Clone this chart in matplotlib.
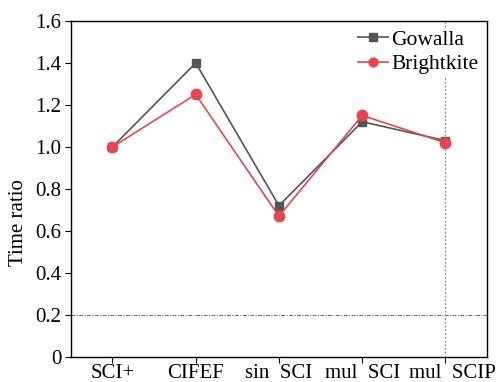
import matplotlib
matplotlib.use("Agg")
import matplotlib.pyplot as plt
import matplotlib.transforms as mtransforms

methods = ["SCI+", "CIFEF", "sin\u2002SCI", "mul\u2002SCI", "mul\u2002SCIP"]
gowalla = [1.00, 1.40, 0.72, 1.12, 1.03]
brightkite = [1.00, 1.25, 0.67, 1.15, 1.02]
yticks = [0, 0.2, 0.4, 0.6, 0.8, 1.0, 1.2, 1.4, 1.6]
ytick_labels = ["0", "0.2", "0.4", "0.6", "0.8", "1.0", "1.2", "1.4", "1.6"]

plt.rcParams["font.family"] = ["Liberation Serif", "DejaVu Serif"]
plt.rcParams["font.size"] = 15

fig = plt.figure(figsize=(4.99, 3.82), dpi=100)
ax = fig.add_axes([0.142, 0.066, 0.834, 0.879])

x = list(range(len(methods)))
ax.axhline(0.2, color="#666666", linestyle=(0, (4, 1.5, 1, 1.5)), linewidth=0.7, zorder=1)
ax.axvline(x[-1], color="#888888", linestyle=(0, (1.5, 1.5)), linewidth=0.9, zorder=1)

ax.plot(x, gowalla, color="#555555", marker="s", markersize=6, linewidth=1.2,
        label="Gowalla", zorder=3)
ax.plot(x, brightkite, color="#E5464F", marker="o", markersize=7.5, linewidth=1.2,
        label="Brightkite", zorder=4)

ax.set_xlim(-0.5, 4.5)
ax.set_ylim(0, 1.6)
ax.set_xticks(x)
ax.set_xticklabels(methods)
ax.set_yticks(yticks)
ax.set_yticklabels(ytick_labels)
ax.tick_params(direction="out", length=4, width=0.8, top=False, right=False)
ax.tick_params(axis="x", pad=1.5)
ax.tick_params(axis="y", pad=3)
ax.set_ylabel("Time ratio")
ax.yaxis.set_label_coords(-0.103, 0.40)

# nudge the last category label to the right so it clears its neighbour
last = ax.get_xticklabels()[-1]
last.set_transform(last.get_transform() +
                   mtransforms.ScaledTranslation(0.07, 0, fig.dpi_scale_trans))

for s in ax.spines.values():
    s.set_linewidth(1.0)

leg = ax.legend(loc="upper right", bbox_to_anchor=(0.985, 0.98), frameon=True,
                fancybox=False, framealpha=1, handlelength=1.4, handletextpad=0.15,
                borderpad=0.1, labelspacing=0.2, borderaxespad=0.0,
                markerscale=0.85, fontsize=15.5)
leg.get_frame().set_edgecolor("none")
leg.get_frame().set_facecolor("white")

fig.savefig("out.png", dpi=100)
